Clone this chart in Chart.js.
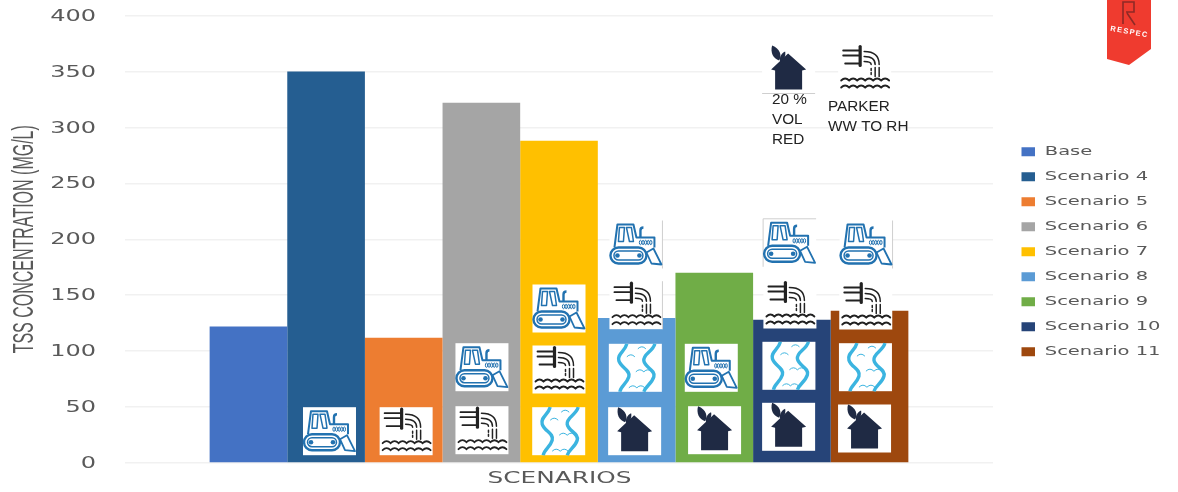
<!DOCTYPE html>
<html>
<head>
<meta charset="utf-8">
<style>
  html, body { margin: 0; padding: 0; background: #fff; }
  canvas { display: block; }
</style>
<script src="https://cdn.jsdelivr.net/npm/chart.js@4"></script>
</head>
<body>
<canvas id="chart" width="1178" height="492"></canvas>
<script>
const scenarioNames = ['Base', 'Scenario 4', 'Scenario 5', 'Scenario 6', 'Scenario 7', 'Scenario 8', 'Scenario 9', 'Scenario 10', 'Scenario 11'];
const tssValues = [122, 350, 112, 322, 288, 129.5, 170, 128, 136];
const barColors = ['#4472C4', '#255E91', '#ED7D31', '#A5A5A5', '#FFC000', '#5B9BD5', '#70AD47', '#264478', '#9E480E'];
const categoryLabels = ['SCENARIOS'];

// icon tiles sitting on the bars: bar index, icon, offset from bar centre, height above the zero line
const iconTiles = [
  [1, 'dozer', 3.4, 55.8],
  [2, 'outfall', 2.4, 55.8],
  [3, 'dozer', 0.6, 119.8], [3, 'outfall', 0.6, 56.8],
  [4, 'dozer', 0, 178.5], [4, 'outfall', 0, 117.5], [4, 'river', -0.3, 55.8],
  [5, 'dozer', -0.7, 242.5, 'r'], [5, 'outfall', -0.7, 181.8, 'r'], [5, 'river', -1.3, 119.2], [5, 'house', -2, 55.8],
  [6, 'dozer', -3, 119.2], [6, 'house', 0.3, 56.8],
  [7, 'dozer', -2.3, 244.2, 'tl'], [7, 'outfall', -2, 182.5], [7, 'river', -3, 121.2], [7, 'house', -3.3, 60.2],
  [8, 'dozer', -3.5, 242.5, 'r'], [8, 'outfall', -3.8, 181.5], [8, 'river', -4.1, 119.8], [8, 'house', -5, 58.5],
  [7, 'house', -3.3, 417.5, 'b'], [8, 'outfall', -4.9, 418.5]
];
const tileNotes = [
  [772, 104, '20 %'], [772, 124, 'VOL'], [772, 144, 'RED'],
  [828, 111, 'PARKER'], [828, 131, 'WW TO RH']
];

// the whole source picture was widened, text included
function stretchDraw(box, method, targetX, originX, sx, dy) {
  const orig = box[method];
  box[method] = function (...args) {
    const ctx = this.ctx;
    ctx.save();
    ctx.translate(targetX, dy || 0);
    ctx.scale(sx, 1);
    ctx.translate(-originX(this), 0);
    orig.apply(this, args);
    ctx.restore();
  };
}

function drawDozer(ctx) {
  ctx.strokeStyle = '#2272B0';
  ctx.fillStyle = '#2272B0';
  ctx.lineWidth = 2;
  ctx.lineJoin = 'round';
  ctx.beginPath();
  ctx.moveTo(5, 27); ctx.lineTo(8, 4); ctx.lineTo(24, 4); ctx.lineTo(27, 17);
  ctx.lineTo(45, 17); ctx.lineTo(45, 27);
  ctx.stroke();
  ctx.lineWidth = 1.5;
  ctx.beginPath();
  ctx.moveTo(10, 7); ctx.lineTo(9, 21); ctx.lineTo(14, 21); ctx.lineTo(15, 7); ctx.closePath();
  ctx.moveTo(17, 7); ctx.lineTo(22, 7); ctx.lineTo(24, 21); ctx.lineTo(20, 21); ctx.closePath();
  ctx.stroke();
  ctx.lineWidth = 2.4;
  ctx.beginPath();
  ctx.moveTo(31, 17); ctx.lineTo(31, 10); ctx.quadraticCurveTo(31, 7, 34, 7);
  ctx.stroke();
  ctx.lineWidth = 1;
  for (let i = 0; i < 5; i++) {
    ctx.beginPath();
    ctx.ellipse(31 + i * 2.6, 22, 1.1, 2.2, 0, 0, Math.PI * 2);
    ctx.stroke();
  }
  ctx.lineWidth = 2.4;
  ctx.beginPath(); ctx.roundRect(1, 27, 36, 16, 8); ctx.stroke();
  ctx.lineWidth = 1.5;
  ctx.beginPath(); ctx.roundRect(4.5, 30.5, 29, 9, 4.5); ctx.stroke();
  ctx.beginPath(); ctx.arc(8, 35, 2.3, 0, Math.PI * 2); ctx.fill();
  ctx.beginPath(); ctx.arc(30, 35, 2.3, 0, Math.PI * 2); ctx.fill();
  ctx.lineWidth = 1.8;
  ctx.beginPath();
  ctx.moveTo(37, 32); ctx.lineTo(44, 28); ctx.lineTo(49, 38); ctx.lineTo(52, 44); ctx.lineTo(42, 43);
  ctx.closePath();
  ctx.stroke();
}

function waveLine(ctx, x0, y, x1) {
  ctx.beginPath();
  ctx.moveTo(x0, y);
  for (let x = x0; x < x1; x += 8) {
    ctx.quadraticCurveTo(x + 4, y - 4, x + 8, y);
  }
  ctx.stroke();
}

function drawOutfall(ctx) {
  ctx.strokeStyle = '#222';
  ctx.lineCap = 'round';
  ctx.lineWidth = 1.8;
  ctx.beginPath();
  ctx.moveTo(5, 6); ctx.lineTo(21, 6);
  ctx.moveTo(5, 11); ctx.lineTo(21, 11);
  ctx.moveTo(7, 19); ctx.lineTo(21, 19);
  ctx.stroke();
  ctx.lineWidth = 3.2;
  ctx.beginPath(); ctx.moveTo(22, 2); ctx.lineTo(22, 21); ctx.stroke();
  ctx.lineWidth = 1.5;
  ctx.beginPath();
  ctx.moveTo(26, 7); ctx.quadraticCurveTo(41, 7, 41, 20);
  ctx.moveTo(26, 12); ctx.quadraticCurveTo(37, 12, 37, 20);
  ctx.moveTo(26, 17); ctx.quadraticCurveTo(33, 17, 33, 20);
  ctx.moveTo(41, 23); ctx.lineTo(41, 32);
  ctx.moveTo(37, 23); ctx.lineTo(37, 32);
  ctx.moveTo(33, 24); ctx.lineTo(33, 26);
  ctx.moveTo(33, 28); ctx.lineTo(33, 30);
  ctx.stroke();
  ctx.lineWidth = 1.8;
  waveLine(ctx, 3, 36, 49);
  waveLine(ctx, 3, 43, 49);
}

function drawRiver(ctx) {
  ctx.strokeStyle = '#3BB4E0';
  ctx.lineWidth = 3.4;
  ctx.beginPath();
  ctx.moveTo(18, 0);
  ctx.bezierCurveTo(16, 8, 8, 10, 10, 17);
  ctx.bezierCurveTo(12, 24, 22, 26, 20, 33);
  ctx.bezierCurveTo(18, 40, 12, 42, 11, 48);
  ctx.moveTo(46, 0);
  ctx.bezierCurveTo(44, 8, 34, 10, 35, 17);
  ctx.bezierCurveTo(36, 24, 47, 26, 45, 33);
  ctx.bezierCurveTo(43, 40, 37, 42, 35, 48);
  ctx.stroke();
  ctx.lineWidth = 1;
  [[29, 5, 37], [18, 13, 26], [27, 28, 36], [20, 44, 33]].forEach(w => waveLine(ctx, w[0], w[1], w[2]));
}

function drawHouse(ctx) {
  ctx.fillStyle = '#1F2A44';
  ctx.beginPath();
  ctx.moveTo(26, 8); ctx.lineTo(44, 24); ctx.lineTo(40, 25); ctx.lineTo(40, 44);
  ctx.lineTo(13, 44); ctx.lineTo(13, 25); ctx.lineTo(9, 24);
  ctx.closePath();
  ctx.fill();
  ctx.beginPath();
  ctx.moveTo(10, 0); ctx.bezierCurveTo(18, 3, 20, 10, 17, 15);
  ctx.bezierCurveTo(11, 13, 8, 7, 10, 0);
  ctx.fill();
  ctx.beginPath();
  ctx.moveTo(23, 6); ctx.bezierCurveTo(24, 10, 22, 15, 18, 16);
  ctx.bezierCurveTo(17, 12, 19, 8, 23, 6);
  ctx.fill();
}

const iconDrawers = { dozer: drawDozer, outfall: drawOutfall, river: drawRiver, house: drawHouse };

function drawLogo(ctx) {
  ctx.save();
  ctx.fillStyle = '#EF3B2F';
  ctx.beginPath();
  ctx.moveTo(1107, 0); ctx.lineTo(1151, 0); ctx.lineTo(1151, 49);
  ctx.lineTo(1129, 65); ctx.lineTo(1107, 59);
  ctx.closePath();
  ctx.fill();
  ctx.strokeStyle = '#8E2A26';
  ctx.lineWidth = 1.6;
  ctx.beginPath();
  ctx.moveTo(1123, 24); ctx.lineTo(1123, 2); ctx.lineTo(1134, 2); ctx.lineTo(1134, 12); ctx.lineTo(1126, 12);
  ctx.moveTo(1127, 13); ctx.lineTo(1135, 25);
  ctx.stroke();
  ctx.translate(1129.5, 32);
  ctx.rotate(10 * Math.PI / 180);
  ctx.fillStyle = '#fff';
  ctx.font = 'bold 7.5px "Liberation Sans"';
  ctx.letterSpacing = '1.3px';
  ctx.textAlign = 'center';
  ctx.textBaseline = 'middle';
  ctx.fillText('RESPEC', 0, 0);
  ctx.restore();
}

const tilesPlugin = {
  id: 'tiles',
  beforeLayout(chart) {
    const legend = chart.legend;
    if (legend._widened) return;
    legend._widened = true;
    const fit = legend.fit;
    legend.fit = function () {
      fit.call(this);
      this.width = 185;
    };
    stretchDraw(legend, 'draw', 1021.5, l => l.left + l.options.labels.padding, 1.5, -2);
  },
  beforeDraw(chart) {
    const y = chart.scales.y, x = chart.scales.x;
    if (y._widened) return;
    y._widened = true;
    stretchDraw(y, 'drawLabels', 96, () => 96, 1.5, 1);
    stretchDraw(y, 'drawTitle', 24, () => 24, 1.8);
    stretchDraw(x, 'drawTitle', 559.5, s => (s.left + s.right) / 2, 1.5);
  },
  afterDatasetsDraw(chart) {
    const ctx = chart.ctx;
    const zero = chart.scales.y.getPixelForValue(0);
    iconTiles.forEach(([bar, icon, dx, up, edge]) => {
      const cx = chart.getDatasetMeta(bar).data[0].x + dx;
      const left = cx - 26.5, top = zero - up;
      ctx.save();
      ctx.translate(left, top);
      ctx.fillStyle = '#fff';
      ctx.fillRect(0, 0, 53, 48);
      if (edge) {
        ctx.strokeStyle = '#CFCFCF';
        ctx.lineWidth = 1;
        ctx.beginPath();
        if (edge.includes('r')) { ctx.moveTo(53, 0); ctx.lineTo(53, 48); }
        if (edge.includes('t')) { ctx.moveTo(0, 0); ctx.lineTo(53, 0); }
        if (edge.includes('l')) { ctx.moveTo(0, 0); ctx.lineTo(0, 48); }
        if (edge.includes('b')) { ctx.moveTo(0, 48); ctx.lineTo(53, 48); }
        ctx.stroke();
      }
      iconDrawers[icon](ctx);
      ctx.restore();
    });
    ctx.save();
    ctx.fillStyle = '#222';
    ctx.font = '15.3px "Liberation Sans"';
    ctx.textBaseline = 'alphabetic';
    tileNotes.forEach(n => ctx.fillText(n[2], n[0], n[1]));
    ctx.restore();
    drawLogo(ctx);
  }
};

new Chart(document.getElementById('chart'), {
  type: 'bar',
  data: {
    labels: categoryLabels,
    datasets: scenarioNames.map((name, i) => ({
      label: name,
      data: [tssValues[i]],
      backgroundColor: barColors[i],
      borderWidth: 0,
      barPercentage: 1,
      categoryPercentage: 0.805
    }))
  },
  options: {
    responsive: false,
    animation: false,
    layout: { padding: { top: 15.5 } },
    plugins: {
      tooltip: { enabled: false },
      legend: {
        position: 'right',
        align: 'center',
        labels: {
          color: '#595959',
          font: { family: 'DejaVu Sans', size: 13 },
          boxWidth: 9,
          boxHeight: 9,
          padding: 12
        }
      }
    },
    scales: {
      x: {
        grid: { display: false },
        border: { display: false },
        ticks: { display: false },
        afterFit: s => { s.height = 29; s.paddingLeft = 0; s.paddingRight = 0; },
        title: {
          display: true,
          text: 'SCENARIOS',
          color: '#595959',
          font: { family: 'DejaVu Sans', size: 16.5 },
          padding: { top: 0, bottom: 3.5 }
        }
      },
      y: {
        min: 0,
        max: 400,
        ticks: {
          stepSize: 50,
          color: '#595959',
          padding: 29,
          font: { family: 'DejaVu Sans', size: 16 }
        },
        grid: { color: '#F1F1F1', lineWidth: 1.5, drawTicks: false },
        border: { display: false },
        afterFit: s => { s.width = 125; s.paddingTop = 0; s.paddingBottom = 0; },
        title: {
          display: true,
          text: 'TSS CONCENTRATION (MG/L)',
          color: '#595959',
          font: { family: 'Liberation Sans', size: 16 },
          padding: { top: 15, bottom: 0 }
        }
      }
    }
  },
  plugins: [tilesPlugin]
});
</script>
</body>
</html>
